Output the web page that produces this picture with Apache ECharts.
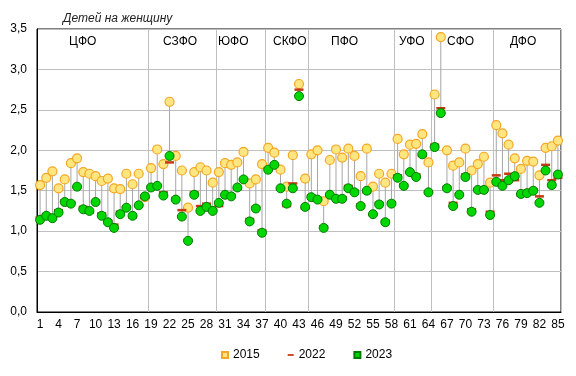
<!DOCTYPE html>
<html>
<head>
<meta charset="utf-8">
<script src="https://cdn.jsdelivr.net/npm/echarts@6/dist/echarts.min.js"></script>
<style>
  html, body { margin: 0; padding: 0; background: #fff; }
  #chart { width: 576px; height: 376px; }
</style>
</head>
<body>
<div id="chart"></div>
<script>
// регионы 1..85, сгруппированы по федеральным округам
const regions = Array.from({ length: 85 }, (_, i) => String(i + 1));

const y2015 = [
  1.57, 1.66, 1.74, 1.53, 1.64, 1.84, 1.90, 1.73, 1.71, 1.68, 1.62, 1.65, 1.53, 1.52, 1.71, 1.58, 1.71, 1.42,
  1.78, 2.01, 1.83, 2.60, 1.93, 1.75, 1.29, 1.73, 1.79, 1.75, 1.60,
  1.73, 1.84, 1.82, 1.85, 1.98, 1.59, 1.64, 1.83,
  2.03, 1.97, 1.76, 1.55, 1.94, 2.82, 1.65,
  1.95, 2.00, 1.37, 1.88, 2.01, 1.91, 2.02, 1.93, 1.68, 2.02, 1.55, 1.71, 1.60, 1.71,
  2.14, 1.95, 2.07, 2.08, 2.20, 1.85,
  2.69, 3.40, 2.00, 1.81, 1.85, 2.02, 1.75, 1.83, 1.92, 1.60,
  2.31, 2.21, 2.07, 1.90, 1.77, 1.87, 1.86, 1.69, 2.03, 2.05, 2.12
];

const y2022 = [
  1.17, 1.21, 1.18, 1.26, 1.38, 1.36, 1.54, 1.30, 1.23, 1.37, 1.22, 1.13, 1.08, 1.24, 1.30, 1.17, 1.32, 1.41,
  1.55, 1.57, 1.48, 1.85, 1.41, 1.26, 0.89, 1.48, 1.31, 1.34, 1.27,
  1.31, 1.44, 1.45, 1.52, 1.64, 1.15, 1.30, 1.01,
  1.78, 1.83, 1.52, 1.31, 1.59, 2.75, 1.28,
  1.44, 1.41, 1.06, 1.44, 1.42, 1.42, 1.56, 1.50, 1.33, 1.48, 1.20, 1.35, 1.13, 1.36,
  1.69, 1.58, 1.72, 1.70, 1.93, 1.49,
  2.07, 2.52, 1.55, 1.35, 1.46, 1.70, 1.27, 1.52, 1.52, 1.24,
  1.69, 1.63, 1.71, 1.63, 1.44, 1.50, 1.52, 1.43, 1.82, 1.63, 1.66
];

const y2023 = [
  1.14, 1.19, 1.16, 1.23, 1.36, 1.34, 1.55, 1.27, 1.25, 1.36, 1.19, 1.11, 1.04, 1.21, 1.29, 1.19, 1.32, 1.43,
  1.54, 1.56, 1.44, 1.93, 1.39, 1.18, 0.88, 1.45, 1.25, 1.30, 1.25,
  1.35, 1.45, 1.43, 1.54, 1.64, 1.12, 1.28, 0.98,
  1.76, 1.82, 1.53, 1.34, 1.53, 2.67, 1.30,
  1.42, 1.39, 1.04, 1.45, 1.40, 1.40, 1.53, 1.48, 1.31, 1.50, 1.21, 1.33, 1.11, 1.34,
  1.66, 1.56, 1.73, 1.67, 1.95, 1.48,
  2.04, 2.46, 1.53, 1.31, 1.45, 1.67, 1.24, 1.51, 1.51, 1.20,
  1.61, 1.56, 1.63, 1.68, 1.46, 1.47, 1.50, 1.35, 1.75, 1.57, 1.70
];

const districts = ["ЦФО", "СЗФО", "ЮФО", "СКФО", "ПФО", "УФО", "СФО", "ДФО"];
// индекс первого региона каждого округа (кроме первого) — там рисуем разделитель
const districtStarts = [18, 29, 37, 44, 58, 64, 74];

const FONT = "Liberation Sans, Arial, sans-serif";

// отрезок 2015 -> 2023: прозрачное основание + серая "ножка"
const lowVals = y2015.map((v, i) => Math.min(v, y2023[i]));
const spanVals = y2015.map((v, i) => Math.abs(v - y2023[i]));

let myChart = echarts.init(document.getElementById("chart"));

const labelX = [83, 177, 232, 287, 345, 413, 461, 524];

myChart.setOption({
  animation: false,
  textStyle: { fontFamily: FONT },
  title: {
    text: "Детей на женщину",
    left: 58,
    top: 8,
    textStyle: { fontSize: 12, fontStyle: "italic", fontWeight: "normal", color: "#222", fontFamily: FONT }
  },
  grid: {
    left: 37, right: 15, top: 29, bottom: 64,
    show: true, borderColor: "#000", borderWidth: 1, containLabel: false
  },
  legend: {
    bottom: 10,
    left: 216,
    itemWidth: 6,
    itemHeight: 6,
    itemGap: 28,
    textStyle: { fontSize: 12, color: "#000", fontFamily: FONT },
    data: [
      { name: "2015", icon: "rect" },
      { name: "2022", icon: "path://M0,0h10v3h-10z" },
      { name: "2023", icon: "rect" }
    ]
  },
  xAxis: {
    type: "category",
    data: regions,
    boundaryGap: true,
    axisLine: { lineStyle: { color: "#000" } },
    axisTick: { show: false },
    axisLabel: { interval: 2, fontSize: 12, color: "#000", margin: 7 },
    splitLine: {
      show: true,
      interval: function (idx) { return districtStarts.indexOf(idx) >= 0; },
      lineStyle: { color: "#BFBFBF", width: 1 }
    }
  },
  yAxis: {
    type: "value",
    min: 0,
    max: 3.5,
    interval: 0.5,
    axisLine: { show: true, lineStyle: { color: "#000" } },
    axisTick: { show: false },
    axisLabel: {
      fontSize: 12, color: "#000", margin: 10,
      formatter: v => v.toFixed(1).replace(".", ",")
    },
    splitLine: { lineStyle: { color: "#BFBFBF", width: 1 } }
  },
  graphic: districts.map((d, i) => ({
    type: "text",
    left: labelX[i] - 14,
    top: 36,
    style: { text: d, fontSize: 12, fill: "#000", font: "12px " + FONT }
  })),
  series: [
    {
      name: "base",
      type: "bar",
      stack: "range",
      silent: true,
      barWidth: 1,
      z: 1,
      itemStyle: { color: "rgba(0,0,0,0)" },
      data: lowVals
    },
    {
      name: "span",
      type: "bar",
      stack: "range",
      silent: true,
      barWidth: 1,
      z: 1,
      itemStyle: { color: "#A6A6A6" },
      data: spanVals
    },
    {
      name: "2015",
      type: "scatter",
      z: 2,
      symbol: "circle",
      symbolSize: 9,
      itemStyle: { color: "#FFE680", borderColor: "#F5A623", borderWidth: 1.2, opacity: 1 },
      data: y2015
    },
    {
      name: "2022",
      type: "scatter",
      z: 3,
      symbol: "rect",
      symbolSize: [9, 2.5],
      itemStyle: { color: "#C63A12", opacity: 1 },
      data: y2022
    },
    {
      name: "2023",
      type: "scatter",
      z: 4,
      symbol: "circle",
      symbolSize: 9,
      itemStyle: { color: "#00D600", borderColor: "#007A00", borderWidth: 1, opacity: 1 },
      data: y2023
    }
  ]
});
</script>
</body>
</html>
